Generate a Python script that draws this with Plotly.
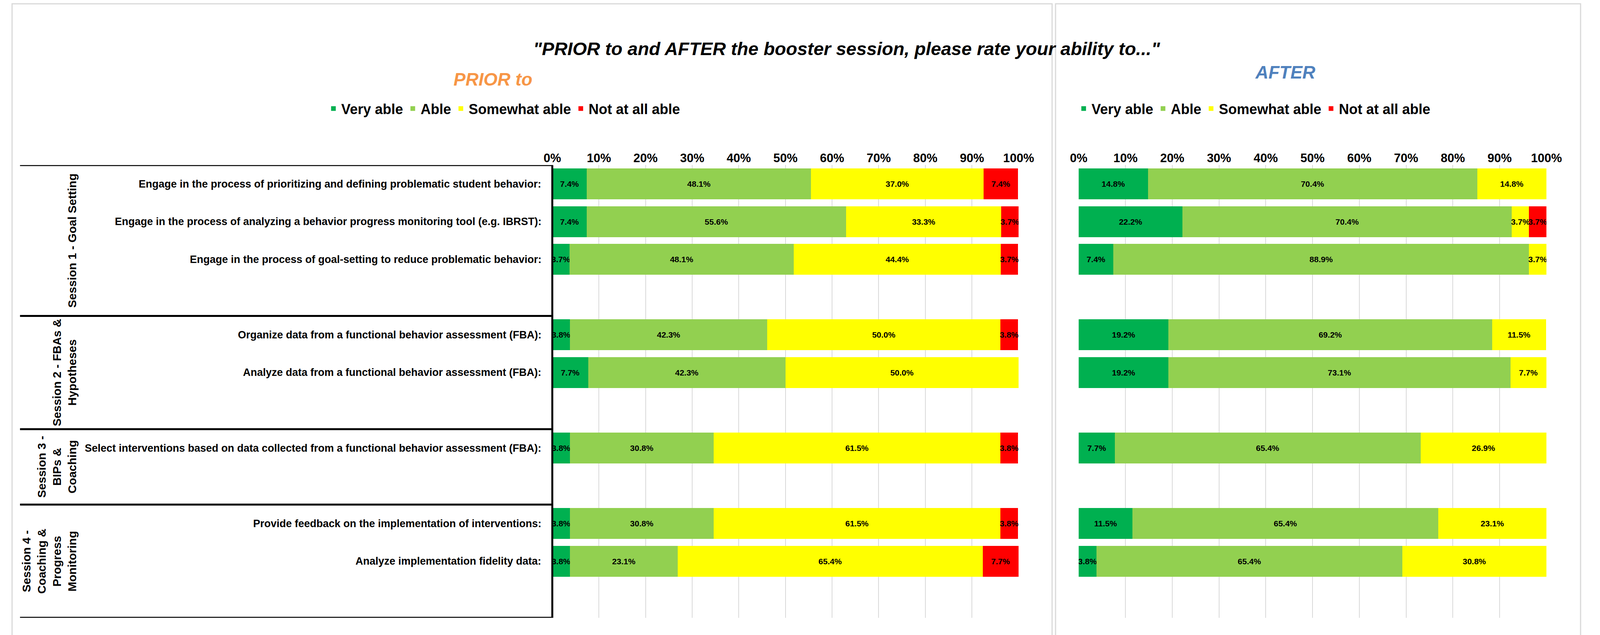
import plotly.graph_objects as go

# rows (blank strings are spacer rows between sessions)
items = [
    "Engage in the process of prioritizing and defining problematic student behavior:",
    "Engage in the process of analyzing a behavior progress monitoring tool (e.g. IBRST):",
    "Engage in the process of goal-setting to reduce problematic behavior:",
    "",
    "Organize data from a functional behavior assessment (FBA):",
    "Analyze data from a functional behavior assessment (FBA):",
    "",
    "Select interventions based on data collected from a functional behavior assessment (FBA):",
    "",
    "Provide feedback on the implementation of interventions:",
    "Analyze implementation fidelity data:",
    "",
]
levels = ["Very able", "Able", "Somewhat able", "Not at all able"]
colors = ["#00B050", "#92D050", "#FFFF00", "#FF0000"]

prior_very = [7.4, 7.4, 3.7, 0, 3.8, 7.7, 0, 3.8, 0, 3.8, 3.8, 0]
prior_able = [48.1, 55.6, 48.1, 0, 42.3, 42.3, 0, 30.8, 0, 30.8, 23.1, 0]
prior_some = [37.0, 33.3, 44.4, 0, 50.0, 50.0, 0, 61.5, 0, 61.5, 65.4, 0]
prior_not = [7.4, 3.7, 3.7, 0, 3.8, 0, 0, 3.8, 0, 3.8, 7.7, 0]

after_very = [14.8, 22.2, 7.4, 0, 19.2, 19.2, 0, 7.7, 0, 11.5, 3.8, 0]
after_able = [70.4, 70.4, 88.9, 0, 69.2, 73.1, 0, 65.4, 0, 65.4, 65.4, 0]
after_some = [14.8, 3.7, 3.7, 0, 11.5, 7.7, 0, 26.9, 0, 23.1, 30.8, 0]
after_not = [0, 3.7, 0, 0, 0, 0, 0, 0, 0, 0, 0, 0]

sessions = [
    ("Session 1 - Goal Setting", 1.5),
    ("Session 2 - FBAs &<br>Hypotheses", 5.0),
    ("Session 3 -<br>BIPs &<br>Coaching", 7.5),
    ("Session 4 -<br>Coaching &<br>Progress<br>Monitoring", 10.0),
]
group_lines = [-0.5, 3.5, 6.5, 8.5, 11.5]

W, H = 4541, 1625
FONT = "Liberation Sans"
rows = list(range(len(items)))

fig = go.Figure()


def add_panel(series, xaxis, legend):
    for name, vals, col in zip(levels, series, colors):
        fig.add_trace(go.Bar(
            y=rows, x=vals, orientation="h", name=name,
            marker=dict(color=col, line=dict(width=0)),
            text=[f"{v:.1f}%" if v > 0 else "" for v in vals],
            textposition="inside", insidetextanchor="middle", textangle=0,
            constraintext="none",
            textfont=dict(family=FONT, size=21, color="black", weight="bold"),
            xaxis=xaxis, yaxis="y", legend=legend, hoverinfo="skip",
        ))


add_panel([prior_very, prior_able, prior_some, prior_not], "x", "legend")
add_panel([after_very, after_able, after_some, after_not], "x2", "legend2")

axis_style = dict(
    range=[0, 100], dtick=10, ticksuffix="%", side="top", showgrid=True,
    gridcolor="#D9D9D9", gridwidth=2, zeroline=False, showline=False,
    tickfont=dict(family=FONT, size=31, color="black", weight="bold"),
)

leg = dict(orientation="h", yanchor="middle", y=0.834, xanchor="left",
           font=dict(family=FONT, size=36, color="black", weight="bold"),
           bgcolor="rgba(0,0,0,0)", itemwidth=30, traceorder="normal")

fig.update_layout(
    autosize=True, barmode="stack", bargap=0.18,
    margin=dict(l=0, r=0, t=0, b=0),
    plot_bgcolor="white", paper_bgcolor="white",
    uniformtext=dict(minsize=21, mode="show"),
    xaxis=dict(domain=[0.3444, 0.6415], anchor="y", **axis_style),
    xaxis2=dict(domain=[0.6798, 0.9778], anchor="y", **axis_style),
    yaxis=dict(domain=[0.032, 0.745], range=[11.5, -0.5], showticklabels=False,
               showgrid=False, zeroline=False),
    legend=dict(x=0.2, **leg),
    legend2=dict(x=0.678, **leg),
)

# row labels
for i, lab in enumerate(items):
    if lab:
        fig.add_annotation(x=0.338, xref="paper", y=i, yref="y", text=lab,
                           showarrow=False, xanchor="right",
                           font=dict(family=FONT, size=27, color="black", weight="bold"))

# session labels
for lab, yc in sessions:
    fig.add_annotation(x=196 / W, xref="paper", y=yc, yref="y", text=lab,
                       showarrow=False, textangle=-90, xanchor="right", align="center",
                       font=dict(family=FONT, size=30, color="black", weight="bold"))

# table lines
for yl in group_lines:
    fig.add_shape(type="line", xref="paper", yref="y", x0=24 / W, x1=1566 / W,
                  y0=yl, y1=yl, line=dict(color="black", width=5))
fig.add_shape(type="line", xref="paper", yref="y", x0=1564 / W, x1=1564 / W,
              y0=-0.5, y1=11.5, line=dict(color="black", width=5))

# panel frames
fig.add_shape(type="rect", xref="paper", yref="paper", x0=1 / W, x1=3010 / W,
              y0=0.001, y1=0.999, line=dict(color="#D9D9D9", width=3))
fig.add_shape(type="rect", xref="paper", yref="paper", x0=3020 / W, x1=4539 / W,
              y0=0.001, y1=0.999, line=dict(color="#D9D9D9", width=3))

# titles
fig.add_annotation(x=0.3317, y=0.946, xref="paper", yref="paper", showarrow=False,
                   text="<i>\"PRIOR to and AFTER the booster session, please rate your ability to...\"</i>",
                   font=dict(family=FONT, size=47, color="black", weight="bold"))
fig.add_annotation(x=0.281, y=0.897, xref="paper", yref="paper", showarrow=False,
                   text="<i>PRIOR to</i>",
                   font=dict(family=FONT, size=46, color="#F79646", weight="bold"))
fig.add_annotation(x=0.831, y=0.908, xref="paper", yref="paper", showarrow=False,
                   text="<i>AFTER</i>",
                   font=dict(family=FONT, size=46, color="#4F81BD", weight="bold"))

fig.write_html("out.html", default_width="100%", default_height="100vh")
